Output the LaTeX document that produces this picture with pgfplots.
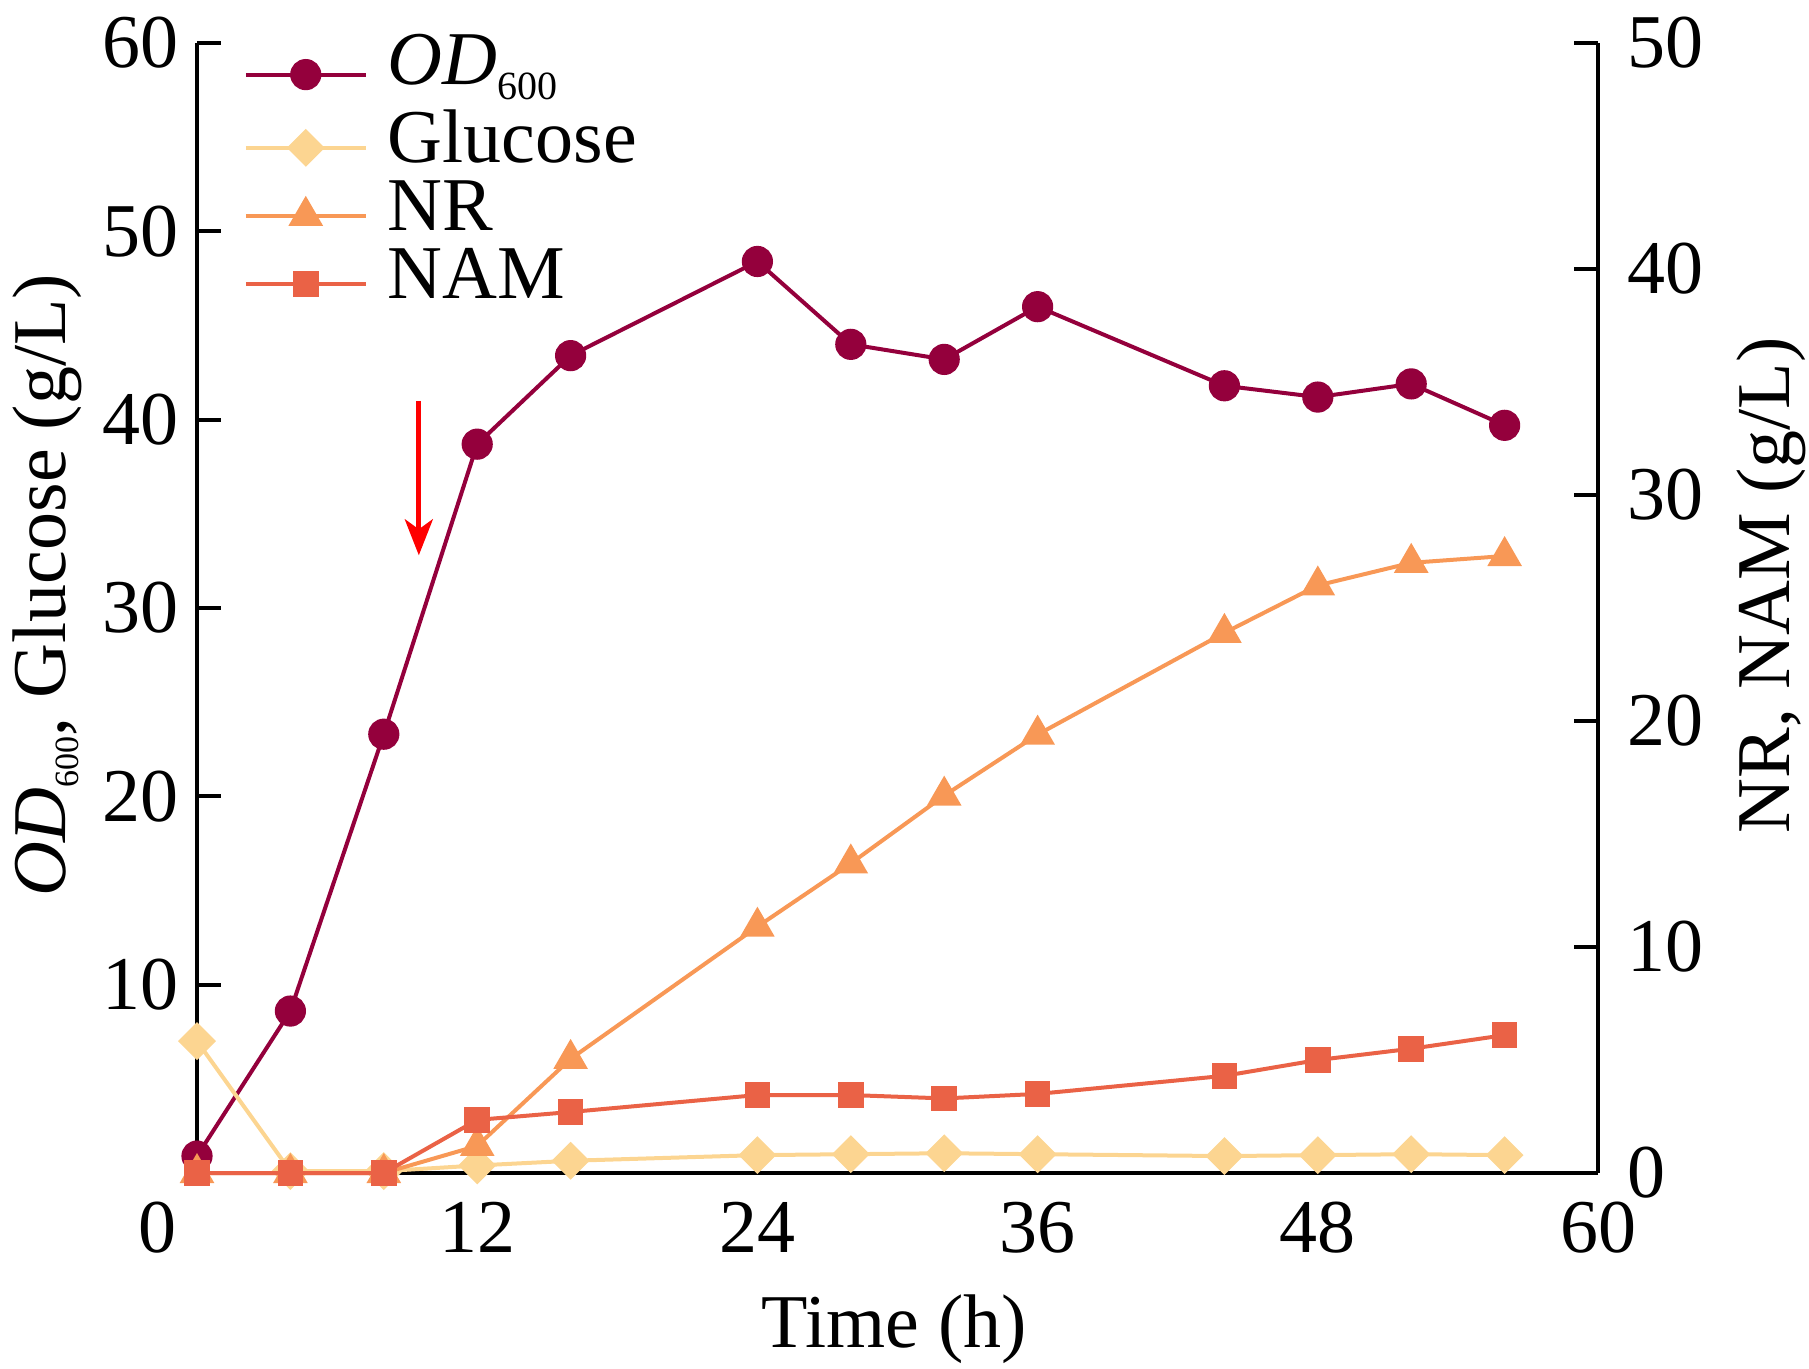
\documentclass[border=0pt]{standalone}
\usepackage{fontspec}
\setmainfont{Liberation Serif}
\usepackage{pgfplots}
\pgfplotsset{compat=1.18}
\usetikzlibrary{arrows.meta}
\definecolor{cOD}{RGB}{148,0,60}
\definecolor{cGlu}{RGB}{252,213,145}
\definecolor{cNR}{RGB}{248,152,86}
\definecolor{cNAM}{RGB}{234,98,70}
\newcommand{\sub}[1]{\raisebox{-3.75pt}{\fontsize{10}{10}\selectfont #1}}
\newcommand{\lsub}[1]{\raisebox{-3.25pt}{\fontsize{8.5}{8.5}\selectfont #1}}
\begin{document}
\begin{tikzpicture}
\pgfplotsset{every axis/.append style={
  scale only axis, width=350.25pt, height=282.5pt, xmin=0, xmax=60, clip=false,
  tick align=inside, major tick length=6pt,
  axis line style={line width=1pt, black},
  every tick/.style={black, line width=1pt},
  ticklabel style={font=\fontsize{19}{19}\selectfont},
  label style={font=\fontsize{19}{19}\selectfont},
  /pgf/number format/assume math mode=true,
  legend image code/.code={\draw[mark repeat=2,mark phase=2,##1] plot coordinates {(0pt,0pt) (15pt,0pt) (30pt,0pt)};},
}}
\begin{axis}[name=ax,
  axis x line*=bottom, axis y line*=left,
  ymin=0, ymax=60, ytick={10,20,...,60}, xtick={12,24,...,60},
  extra x ticks={0}, extra x tick style={xticklabel style={xshift=-9.8pt}},
  xlabel={Time (h)},
  ylabel={\textit{OD}\lsub{600}, Glucose (g/L)},
  xlabel style={at={(axis description cs:0.4975,-0.154)}, anchor=base},
  ylabel style={at={(axis description cs:-0.0942,0.52)}, anchor=base},
  xticklabel style={yshift=-3.75pt},
  yticklabel style={xshift=-1.2pt},
  legend style={at={(axis description cs:0.0328,1.003)}, anchor=north west, draw=none, fill=none,
    inner sep=0pt, column sep=5pt, row sep=2.5pt, font=\fontsize{19}{19}\selectfont,
    nodes={inner sep=0pt, text height=11pt, text depth=3.5pt}},
  legend cell align=left,
]
\addplot[cOD, line width=1pt, mark=*, mark size=3.4pt, mark options={solid, fill=cOD, draw=cOD}] coordinates {
(0,0.9)(4,8.6)(8,23.3)(12,38.7)(16,43.4)(24,48.4)(28,44.0)(32,43.2)(36,46.0)(44,41.8)(48,41.2)(52,41.9)(56,39.7)};
\addlegendentry[text depth=6.1pt]{\textit{OD}\sub{600}}
\addplot[cGlu, line width=1pt, mark=square*, mark size=2.85pt, mark options={solid, rotate=45, fill=cGlu, draw=cGlu}] coordinates {
(0,7.0)(4,0.1)(8,0.1)(12,0.4)(16,0.65)(24,0.95)(28,1.0)(32,1.05)(36,1.0)(44,0.9)(48,0.95)(52,1.0)(56,0.95)};
\addlegendentry{Glucose}
\addlegendimage{cNR, line width=1pt, mark=triangle*, mark size=4pt, mark options={solid, fill=cNR, draw=cNR}}
\addlegendentry{NR}
\addlegendimage{cNAM, line width=1pt, mark=square*, mark size=2.7pt, mark options={solid, fill=cNAM, draw=cNAM}}
\addlegendentry{NAM}
\draw[red, line width=1.2pt, -{Stealth[length=9pt, width=7pt, inset=2.5pt]}] (axis cs:9.5,41) -- (axis cs:9.5,32.8);
\end{axis}
\begin{axis}[
  axis x line=none, axis y line*=right,
  ymin=0, ymax=50, ytick={0,10,...,50},
  ylabel={NR, NAM (g/L)},
  ylabel style={at={(axis description cs:1.1363,0.52)}, anchor=base},
  yticklabel style={xshift=3.75pt},
]
\addplot[cNR, line width=1pt, mark=triangle*, mark size=4pt, mark options={solid, fill=cNR, draw=cNR}] coordinates {
(0,0)(4,0)(8,0)(12,1.2)(16,5.05)(24,10.9)(28,13.7)(32,16.7)(36,19.4)(44,23.9)(48,26.0)(52,27.0)(56,27.3)};
\addplot[cNAM, line width=1pt, mark=square*, mark size=2.7pt, mark options={solid, fill=cNAM, draw=cNAM}] coordinates {
(0,0)(4,0)(8,0)(12,2.35)(16,2.7)(24,3.45)(28,3.45)(32,3.3)(36,3.5)(44,4.3)(48,5.0)(52,5.5)(56,6.1)};
\end{axis}
\pgfresetboundingbox
\path[use as bounding box] ([shift={(-49.25pt,-48.75pt)}]ax.south west) rectangle ([shift={(52.75pt,10.75pt)}]ax.north east);
\end{tikzpicture}
\end{document}
